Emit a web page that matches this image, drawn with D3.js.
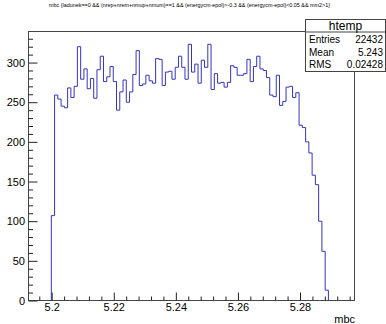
<!DOCTYPE html>
<html><head><meta charset="utf-8">
<script src="https://cdn.jsdelivr.net/npm/d3@7"></script>
<style>body{margin:0;background:#fff} text{font-family:"Liberation Sans",Arial,Helvetica,sans-serif}</style>
</head><body><svg id="c" width="386" height="324"></svg>
<script>
const title = "mbc {ladunek==0 && (nrep+nrem+nmup+nmum)==1 && (energycm-epol)>-0.3 && (energycm-epol)<0.05 && mm2>1}";
const xAxisLabel = "mbc";
const xRange = [5.192525, 5.29756];
const yMax = 339.15;
const counts = [
  0,0,0,0,0,0,0,107,259,254,
  245,243,268,256,270,320,279,292,267,280,
  255,291,308,276,282,295,276,240,263,278,
  250,263,285,315,271,273,284,277,274,305,
  304,271,288,289,279,294,308,294,279,323,
  288,298,274,303,294,323,266,286,274,275,
  269,275,296,294,284,284,286,304,276,295,
  308,292,290,281,259,257,284,246,251,269,
  270,256,262,221,218,200,186,158,146,100,
  62,13,0,0,0,0,0,0,0,0
];
const xTicks = [5.2, 5.22, 5.24, 5.26, 5.28];
const xTickLabels = ["5.2", "5.22", "5.24", "5.26", "5.28"];
const yTicks = [0, 50, 100, 150, 200, 250, 300];
const statsTitle = "htemp";
const statsLabels = ["Entries", "Mean", "RMS"];
const statsValues = ["22432", "5.243", "0.02428"];

const svg = d3.select("#c");
const L = 28.5, R = 354.5, T = 31.5, B = 300.5;
const x = d3.scaleLinear().domain(xRange).range([L, R]);
const y = d3.scaleLinear().domain([0, yMax]).range([B, T]);

svg.append("rect").attr("width", 386).attr("height", 324).attr("fill", "#fff");

// histogram outline
const nb = counts.length;
const bw = (xRange[1] - xRange[0]) / nb;
const pts = [[xRange[0], 0]];
counts.forEach((c, i) => {
  pts.push([xRange[0] + i * bw, c]);
  pts.push([xRange[0] + (i + 1) * bw, c]);
});
svg.append("path")
  .attr("d", d3.line().x(d => x(d[0])).y(d => y(d[1]))(pts))
  .attr("fill", "none").attr("stroke", "#3434c4").attr("stroke-width", 1);

// frame
svg.append("rect").attr("x", L).attr("y", T).attr("width", R - L).attr("height", B - T)
  .attr("fill", "none").attr("stroke", "#444").attr("stroke-width", 1);

// x axis
const xMinor = d3.range(5.196, 5.297, 0.004).filter(v => !xTicks.some(t => Math.abs(t - v) < 1e-6));
const gx = svg.append("g").attr("transform", `translate(0,${B})`)
  .call(d3.axisBottom(x).tickValues(xTicks).tickFormat((d, i) => xTickLabels[i]).tickSizeInner(-8).tickSizeOuter(0).tickPadding(3));
gx.select(".domain").remove();
gx.selectAll("text").attr("font-size", 11).attr("fill", "#000").attr("font-family", "Liberation Sans, Arial, sans-serif");
gx.selectAll("line").attr("stroke", "#222");
const gxm = svg.append("g").attr("transform", `translate(0,${B})`)
  .call(d3.axisBottom(x).tickValues(xMinor).tickFormat("").tickSizeInner(-4).tickSizeOuter(0));
gxm.select(".domain").remove();
gxm.selectAll("line").attr("stroke", "#222");

// y axis
const yMinor = d3.range(10, 340, 10).filter(v => v % 50 !== 0);
const gy = svg.append("g").attr("transform", `translate(${L},0)`)
  .call(d3.axisLeft(y).tickValues(yTicks).tickFormat(d3.format("d")).tickSizeInner(-9).tickSizeOuter(0).tickPadding(3.5));
gy.select(".domain").remove();
gy.selectAll("text").attr("font-size", 11).attr("fill", "#000").attr("font-family", "Liberation Sans, Arial, sans-serif");
gy.selectAll("line").attr("stroke", "#222");
const gym = svg.append("g").attr("transform", `translate(${L},0)`)
  .call(d3.axisLeft(y).tickValues(yMinor).tickFormat("").tickSizeInner(-4.5).tickSizeOuter(0));
gym.select(".domain").remove();
gym.selectAll("line").attr("stroke", "#222");

// axis title
svg.append("text").attr("x", 355).attr("y", 322.5).attr("text-anchor", "end")
  .attr("font-size", 11).text(xAxisLabel);

// title
svg.append("text").attr("x", 49).attr("y", 6.8).attr("font-size", 5)
  .attr("textLength", 281).attr("lengthAdjust", "spacingAndGlyphs").text(title);

// stats box
const sb = { x0: 305.5, x1: 385.5, y0: 19.5, yt: 32, y1: 71.5 };
svg.append("rect").attr("x", sb.x0).attr("y", sb.y0).attr("width", sb.x1 - sb.x0).attr("height", sb.y1 - sb.y0)
  .attr("fill", "#fff").attr("stroke", "#444");
svg.append("line").attr("x1", sb.x0).attr("x2", sb.x1).attr("y1", sb.yt).attr("y2", sb.yt).attr("stroke", "#444");
svg.append("text").attr("x", (sb.x0 + sb.x1) / 2).attr("y", 30).attr("text-anchor", "middle")
  .attr("font-size", 12).text(statsTitle);
const rowY = [43, 55.5, 67.5];
statsLabels.forEach((l, i) => {
  svg.append("text").attr("x", 309).attr("y", rowY[i]).attr("font-size", 10).text(l);
  svg.append("text").attr("x", 383).attr("y", rowY[i]).attr("text-anchor", "end").attr("font-size", 10).text(statsValues[i]);
});
</script></body></html>
